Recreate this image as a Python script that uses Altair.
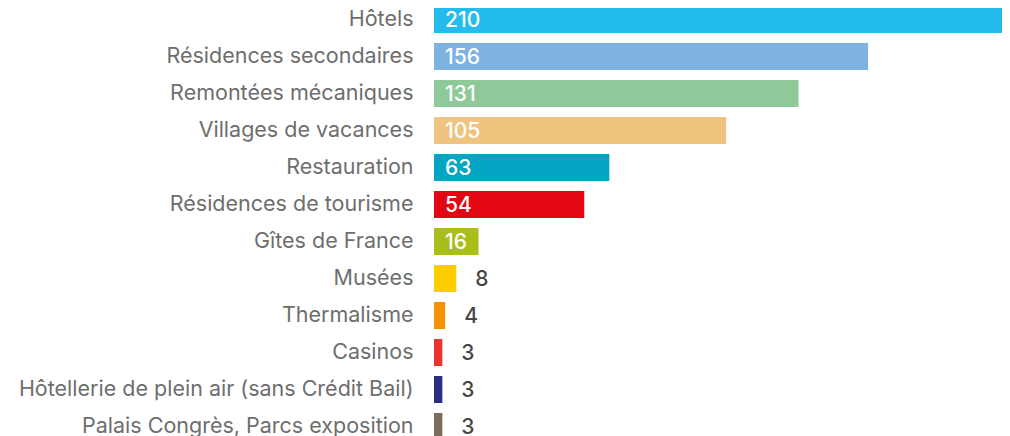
import altair as alt
import pandas as pd

categories = [
    "Hôtels",
    "Résidences secondaires",
    "Remontées mécaniques",
    "Villages de vacances",
    "Restauration",
    "Résidences de tourisme",
    "Gîtes de France",
    "Musées",
    "Thermalisme",
    "Casinos",
    "Hôtellerie de plein air (sans Crédit Bail)",
    "Palais Congrès, Parcs exposition",
]
values = [210, 156, 131, 105, 63, 54, 16, 8, 4, 3, 3, 3]
colors = [
    "#23BCED", "#7EB2E0", "#8FC99A", "#EEC47F", "#02A5C2", "#E30613",
    "#A9BE1B", "#FFCC00", "#F39200", "#E8362E", "#2B2C82", "#7B6B5B",
]

df = pd.DataFrame({"cat": categories, "val": values})
df["start"] = 0

FONT = "Inter"

y_enc = alt.Y(
    "cat:N",
    sort=categories,
    title=None,
    scale=alt.Scale(paddingInner=0.27, paddingOuter=0.135),
    axis=alt.Axis(
        domain=False, ticks=False, grid=False,
        labelFontSize=21.5, labelColor="#6e6e6e", labelFont=FONT,
        labelPadding=21, labelLimit=0,
    ),
)

xscale = alt.Scale(domain=[0, 207], nice=False, zero=True)

base = alt.Chart(df).encode(y=y_enc)

bars = base.mark_bar(clip=True).encode(
    x=alt.X("val:Q", scale=xscale, axis=None),
    color=alt.Color("cat:N", scale=alt.Scale(domain=categories, range=colors), legend=None),
)

inside = base.transform_filter("datum.val >= 16").mark_text(
    align="left", baseline="middle", dx=11, dy=1, color="white",
    fontSize=21, font=FONT, fontWeight=500,
).encode(
    x=alt.X("start:Q", scale=xscale, axis=None),
    text="val:Q",
)

outside = base.transform_filter("datum.val < 16").mark_text(
    align="left", baseline="middle", dx=19, dy=1, color="#474747",
    fontSize=21, font=FONT, fontWeight=500,
).encode(
    x=alt.X("val:Q", scale=xscale, axis=None),
    text="val:Q",
)

chart = alt.layer(bars, inside, outside).properties(
    width=576,
    height=444,
    autosize=alt.AutoSizeParams(type="none"),
    padding={"left": 426, "top": -7, "right": -8, "bottom": 0},
).configure_view(stroke=None)

chart.save("out.html", embed_options={"renderer": "svg", "actions": False})
